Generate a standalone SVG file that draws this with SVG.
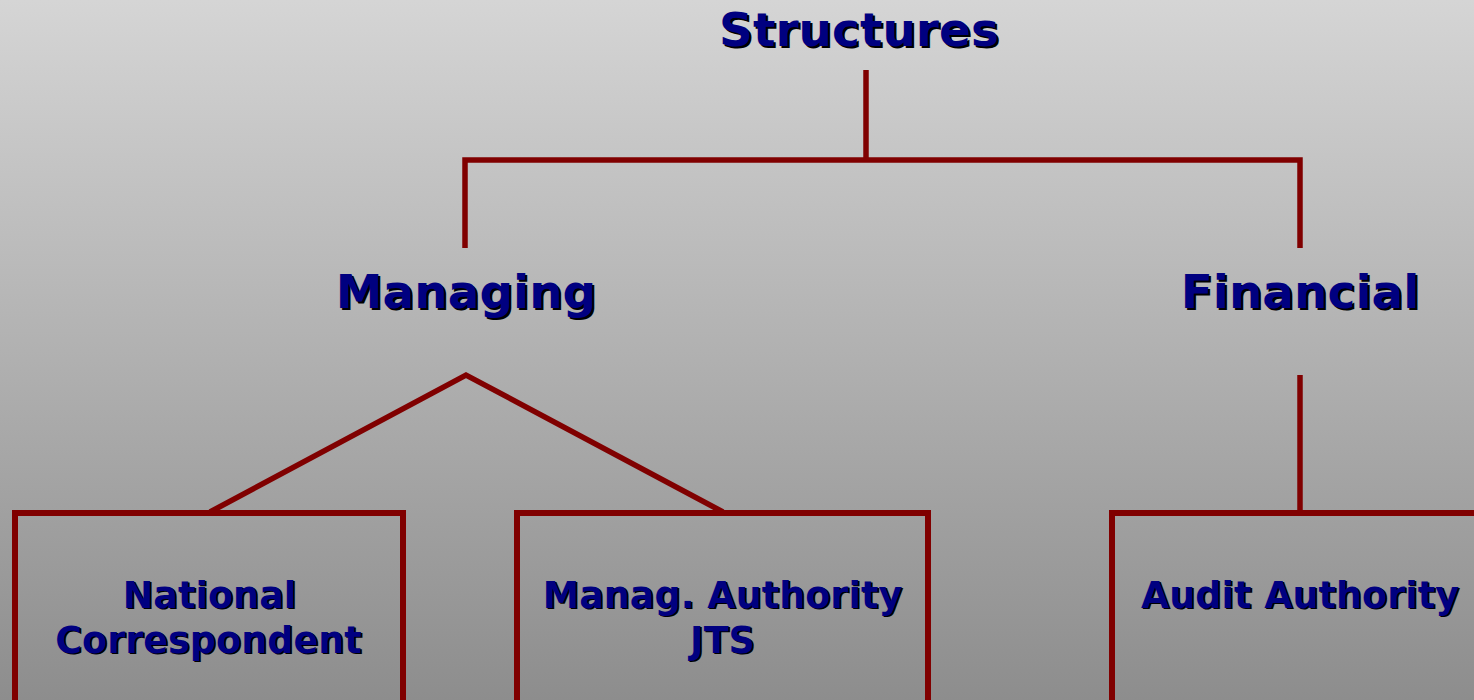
<svg xmlns="http://www.w3.org/2000/svg" width="1474" height="700" viewBox="0 0 1474 700">
<defs>
<linearGradient id="bg" x1="0" y1="0" x2="0" y2="1">
<stop offset="0" stop-color="#d5d5d5"/>
<stop offset="1" stop-color="#8d8d8d"/>
</linearGradient>
<style>
.t{font-family:"DejaVu Sans","Verdana",sans-serif;font-weight:bold;text-anchor:middle;}
.h{font-size:47px;}
.b{font-size:36.6px;}
.sh{fill:#000;}
.fg{fill:#000080;}
.ln{stroke:#800000;stroke-width:5.5;fill:none;}
.box{stroke:#800000;stroke-width:6;fill:none;}
</style>
</defs>
<rect width="1474" height="700" fill="url(#bg)"/>
<g id="connectors" class="ln">
<path d="M866 70V160"/>
<path d="M465 248V160H1300V248"/>
<path d="M210 512L466 375L723 512"/>
<path d="M1300 375V513"/>
</g>
<g id="structures">
<text class="t h sh" x="861" y="48">Structures</text>
<text class="t h fg" x="859" y="46">Structures</text>
</g>
<g id="managing">
<text class="t h sh" x="468" y="310">Managing</text>
<text class="t h fg" x="466" y="308">Managing</text>
</g>
<g id="financial">
<text class="t h sh" x="1302" y="310">Financial</text>
<text class="t h fg" x="1300" y="308">Financial</text>
</g>
<g id="national">
<rect class="box" x="15" y="513" width="388" height="220"/>
<text class="t b sh" x="211" y="609">National</text>
<text class="t b fg" x="209.5" y="607.5">National</text>
<text class="t b sh" x="210" y="654">Correspondent</text>
<text class="t b fg" x="208.5" y="652.5">Correspondent</text>
</g>
<g id="managauthority">
<rect class="box" x="517" y="513" width="411" height="220"/>
<text class="t b sh" x="724" y="609">Manag. Authority</text>
<text class="t b fg" x="722.5" y="607.5">Manag. Authority</text>
<text class="t b sh" x="724" y="654">JTS</text>
<text class="t b fg" x="722.5" y="652.5">JTS</text>
</g>
<g id="audit">
<rect class="box" x="1112" y="513" width="400" height="220"/>
<text class="t b sh" x="1301.5" y="609">Audit Authority</text>
<text class="t b fg" x="1300" y="607.5">Audit Authority</text>
</g>
</svg>
